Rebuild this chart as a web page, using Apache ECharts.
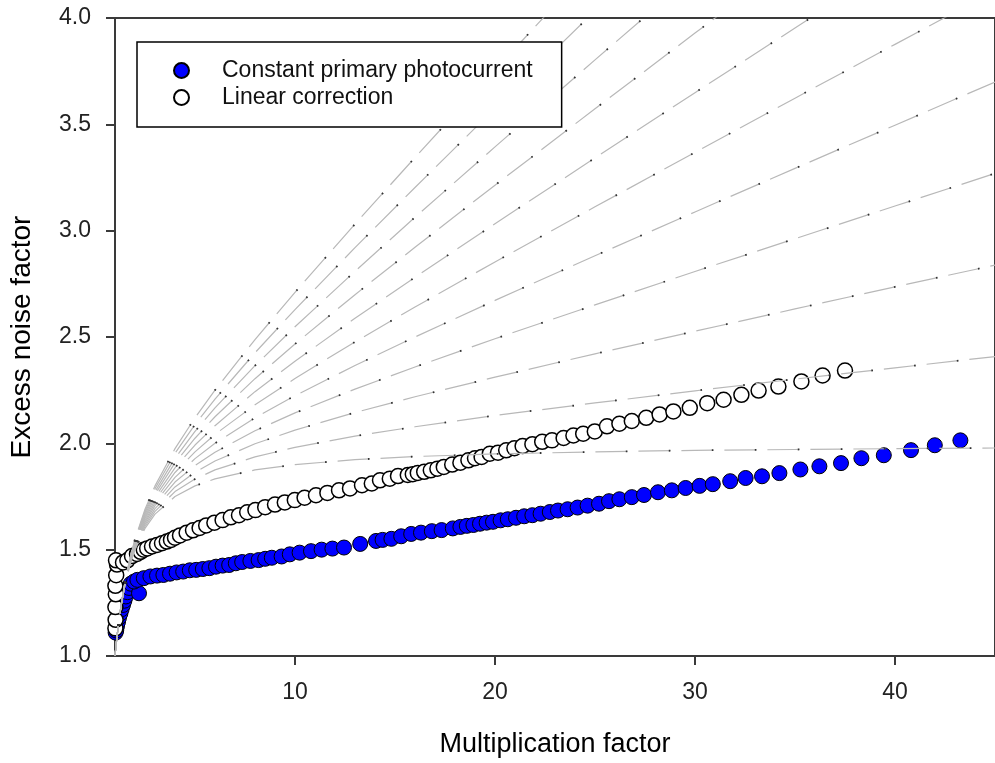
<!DOCTYPE html>
<html>
<head>
<meta charset="utf-8">
<script src="https://cdn.jsdelivr.net/npm/echarts@6/dist/echarts.min.js"></script>
<style>
html,body{margin:0;padding:0;background:#fff;}
#chart{width:995px;height:763px;}
</style>
</head>
<body>
<div id="chart"></div>
<script>
// ---- Data ----
var xTicks = [10, 20, 30, 40];

// Constant primary photocurrent: [multiplication factor, excess noise factor]
var constantPrimary = [
  [1.03,1.11],[1.06,1.12],[1.10,1.14],[1.15,1.16],[1.20,1.18],[1.27,1.20],[1.33,1.22],
  [1.40,1.24],[1.47,1.26],[1.54,1.28],[1.62,1.30],[1.70,1.32],[1.79,1.34],[2.20,1.295],
  [1.95,1.35],[2.12,1.358],[2.44,1.366],[2.77,1.374],[3.10,1.378],[3.42,1.381],[3.75,1.387],
  [4.08,1.393],[4.41,1.397],[4.74,1.403],[5.06,1.405],[5.39,1.409],[5.72,1.413],[6.05,1.420],
  [6.38,1.425],[6.71,1.428],[7.04,1.436],[7.36,1.442],[7.77,1.447],[8.18,1.451],[8.51,1.457],
  [8.84,1.462],[9.33,1.468],[9.74,1.478],[10.23,1.486],[10.80,1.493],[11.33,1.500],[11.87,1.505],
  [12.45,1.510],[13.26,1.527],[14.05,1.541],[14.38,1.546],[14.82,1.551],[15.31,1.563],[15.81,1.574],
  [16.30,1.580],[16.84,1.587],[17.33,1.592],[17.89,1.600],[18.27,1.607],[18.59,1.612],[18.92,1.616],
  [19.25,1.622],[19.58,1.627],[19.90,1.631],[20.28,1.638],[20.64,1.643],[21.05,1.650],[21.46,1.657],
  [21.87,1.662],[22.28,1.669],[22.74,1.677],[23.15,1.684],[23.63,1.690],[24.13,1.698],[24.63,1.707],
  [25.20,1.716],[25.70,1.728],[26.22,1.737],[26.84,1.747],[27.45,1.757],[28.15,1.770],[28.84,1.779],
  [29.53,1.790],[30.23,1.800],[30.89,1.808],[31.76,1.822],[32.53,1.837],[33.35,1.845],[34.22,1.860],
  [35.27,1.877],[36.22,1.892],[37.30,1.907],[38.32,1.930],[39.44,1.944],[40.80,1.968],[41.99,1.991],
  [43.27,2.014]
];

// Linear correction: [multiplication factor, excess noise factor]
var linearCorrection = [
  [1.02,1.13],[1.03,1.17],[1.02,1.23],[1.04,1.29],[1.02,1.33],[1.06,1.38],[1.10,1.43],[1.05,1.45],
  [1.40,1.44],[1.62,1.45],[1.85,1.47],[2.10,1.48],[2.28,1.49],[2.44,1.50],[2.61,1.506],[2.85,1.515],
  [3.10,1.522],[3.35,1.530],[3.59,1.538],[3.80,1.546],[4.00,1.556],[4.25,1.567],[4.58,1.580],
  [4.90,1.591],[5.23,1.602],[5.56,1.614],[5.97,1.627],[6.38,1.639],[6.79,1.652],[7.20,1.662],
  [7.61,1.676],[8.02,1.686],[8.51,1.700],[9.00,1.712],[9.49,1.722],[9.99,1.733],[10.48,1.744],
  [11.05,1.756],[11.62,1.767],[12.20,1.779],[12.75,1.788],[13.35,1.803],[13.84,1.811],[14.25,1.826],
  [14.74,1.834],[15.15,1.846],[15.64,1.851],[15.89,1.855],[16.14,1.861],[16.46,1.866],[16.79,1.873],
  [17.12,1.881],[17.44,1.889],[17.86,1.900],[18.27,1.909],[18.67,1.920],[19.00,1.930],[19.33,1.936],
  [19.74,1.951],[20.15,1.956],[20.56,1.967],[20.97,1.977],[21.38,1.987],[21.87,1.996],[22.36,2.007],
  [22.85,2.014],[23.43,2.025],[23.92,2.037],[24.41,2.045],[24.99,2.056],[25.60,2.080],[26.22,2.092],
  [26.84,2.105],[27.56,2.120],[28.23,2.136],[28.92,2.150],[29.74,2.167],[30.61,2.189],[31.43,2.205],
  [32.32,2.228],[33.18,2.248],[34.17,2.267],[35.32,2.291],[36.38,2.319],[37.50,2.342]
];

// Gray reference curves (one row per curve), sampled at curveM
var curveM = [1, 1.05, 1.1, 1.2, 1.3, 1.5, 1.75, 2, 2.5, 3, 4, 5, 6, 8, 10, 13, 16, 20, 25, 30, 35, 40, 45];
var curveRows = [
  [1,1.048,1.091,1.167,1.231,1.333,1.429,1.500,1.600,1.667,1.750,1.800,1.833,1.875,1.900,1.923,1.938,1.950,1.960,1.967,1.971,1.975,1.978],
  [1,1.048,1.091,1.167,1.231,1.335,1.432,1.505,1.609,1.680,1.773,1.832,1.875,1.936,1.981,2.034,2.078,2.131,2.190,2.247,2.302,2.355,2.408],
  [1,1.048,1.091,1.167,1.232,1.337,1.435,1.510,1.618,1.693,1.795,1.864,1.917,1.998,2.062,2.145,2.219,2.311,2.421,2.527,2.632,2.736,2.838],
  [1,1.048,1.091,1.168,1.233,1.338,1.438,1.515,1.627,1.707,1.818,1.896,1.958,2.059,2.143,2.255,2.359,2.492,2.651,2.808,2.962,3.116,3.269],
  [1,1.048,1.091,1.168,1.234,1.340,1.442,1.520,1.636,1.720,1.840,1.928,2.000,2.120,2.224,2.366,2.500,2.672,2.882,3.088,3.293,3.496,3.699],
  [1,1.048,1.091,1.168,1.234,1.342,1.445,1.525,1.645,1.733,1.863,1.960,2.042,2.181,2.305,2.477,2.641,2.853,3.112,3.368,3.623,3.876,4.129],
  [1,1.048,1.091,1.169,1.235,1.343,1.448,1.530,1.654,1.747,1.885,1.992,2.083,2.243,2.386,2.588,2.781,3.033,3.342,3.649,3.953,4.257,4.559],
  [1,1.048,1.092,1.169,1.236,1.345,1.451,1.535,1.663,1.760,1.908,2.024,2.125,2.304,2.467,2.699,2.922,3.214,3.573,3.929,4.283,4.637,4.989],
  [1,1.048,1.092,1.169,1.236,1.347,1.454,1.540,1.672,1.773,1.930,2.056,2.167,2.365,2.548,2.809,3.063,3.394,3.803,4.209,4.614,5.017,5.420],
  [1,1.048,1.092,1.170,1.237,1.348,1.457,1.545,1.681,1.787,1.953,2.088,2.208,2.426,2.629,2.920,3.203,3.575,4.034,4.490,4.944,5.397,5.850],
  [1,1.048,1.092,1.170,1.238,1.350,1.461,1.550,1.690,1.800,1.975,2.120,2.250,2.488,2.710,3.031,3.344,3.755,4.264,4.770,5.274,5.778,6.280]
];

var seriesNames = ['Constant primary photocurrent', 'Linear correction'];

// ---- Chart ----
var FONT = '"Liberation Sans", Arial, sans-serif';
var chart = echarts.init(document.getElementById('chart'), null, {renderer: 'canvas'});

var series = [
  {
    name: seriesNames[0], type: 'scatter', data: constantPrimary, symbol: 'circle', symbolSize: 15, z: 2,
    itemStyle: {color: '#0000ff', borderColor: '#000', borderWidth: 1, opacity: 1}
  },
  {
    name: seriesNames[1], type: 'scatter', data: linearCorrection, symbol: 'circle', symbolSize: 15, z: 3,
    itemStyle: {color: '#ffffff', borderColor: '#000', borderWidth: 1.5, opacity: 1}
  }
];
curveRows.forEach(function (row, r) {
  var pts = curveM.map(function (m, i) { return [m, row[i]]; });
  series.push({
    name: 'curve' + r, type: 'line', data: pts, showSymbol: false, symbol: 'none', smooth: false, z: 4,
    silent: true, legendHoverLink: false,
    lineStyle: {color: '#b8b8b8', width: 1.2, type: [32, 11], cap: 'butt'}
  });
  series.push({
    name: 'curvedot' + r, type: 'line', data: pts, showSymbol: false, symbol: 'none', smooth: false, z: 5,
    silent: true, legendHoverLink: false,
    lineStyle: {color: '#333', width: 1.8, type: [1.6, 41.4], dashOffset: 12.6, cap: 'butt'}
  });
});

chart.setOption({
  animation: false,
  backgroundColor: '#fff',
  grid: {left: 114.5, right: -13.5, top: 18, bottom: 105, show: true, borderColor: '#3a3a3a', borderWidth: 2, backgroundColor: 'transparent'},
  legend: {
    data: seriesNames, orient: 'vertical', left: 137, top: 42,
    padding: [15, 29, 16, 36], itemGap: 0, itemWidth: 15, itemHeight: 15,
    borderColor: '#000', borderWidth: 1.5, backgroundColor: '#fff', borderRadius: 0,
    textStyle: {fontFamily: FONT, fontSize: 23, color: '#111', lineHeight: 27, padding: [0, 0, 0, 28]},
    selectedMode: false, z: 10
  },
  xAxis: {
    type: 'value', min: 1, max: 45,
    name: 'Multiplication factor', nameLocation: 'middle', nameGap: 75,
    nameTextStyle: {fontFamily: FONT, fontSize: 27, color: '#000'},
    axisLine: {show: true, onZero: false, lineStyle: {color: '#3a3a3a', width: 2}},
    axisTick: {show: true, inside: false, length: 9, customValues: xTicks, lineStyle: {color: '#3a3a3a', width: 2}},
    axisLabel: {show: true, margin: 25, customValues: xTicks, fontFamily: FONT, fontSize: 23, color: '#222'},
    splitLine: {show: false}
  },
  yAxis: {
    type: 'value', min: 1, max: 4, interval: 0.5,
    name: 'Excess noise factor', nameLocation: 'middle', nameGap: 79,
    nameTextStyle: {fontFamily: FONT, fontSize: 28, color: '#000'},
    axisLine: {show: true, onZero: false, lineStyle: {color: '#3a3a3a', width: 2}},
    axisTick: {show: true, inside: false, length: 9, lineStyle: {color: '#3a3a3a', width: 2}},
    axisLabel: {show: true, margin: 24, fontFamily: FONT, fontSize: 23, color: '#222',
      formatter: function (v) { return v.toFixed(1); }},
    splitLine: {show: false}
  },
  series: series
});
</script>
</body>
</html>
